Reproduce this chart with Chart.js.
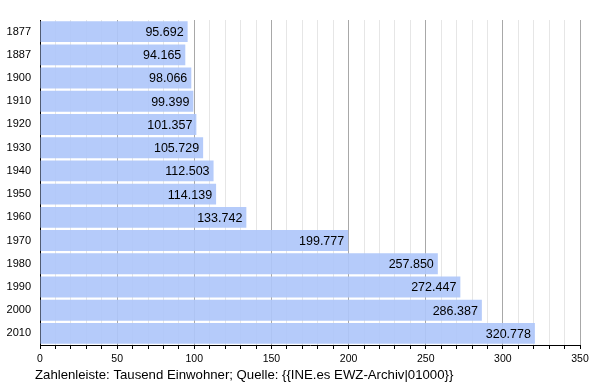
<!DOCTYPE html>
<html>
<head>
<meta charset="utf-8">
<script src="https://cdn.jsdelivr.net/npm/chart.js@4/dist/chart.umd.min.js"></script>
<style>
  html, body { margin: 0; padding: 0; background: #fff; }
  #wrap { width: 600px; height: 385px; }
</style>
</head>
<body>
<div id="wrap"><canvas id="chart"></canvas></div>
<script>
const years = ['1877', '1887', '1900', '1910', '1920', '1930', '1940', '1950', '1960', '1970', '1980', '1990', '2000', '2010'];
const population = [95.692, 94.165, 98.066, 99.399, 101.357, 105.729, 112.503, 114.139, 133.742, 199.777, 257.850, 272.447, 286.387, 320.778];
const axisMax = 350;
const axisStep = 10;
const labelStep = 50;
const footnote = 'Zahlenleiste: Tausend Einwohner; Quelle: {{INE.es EWZ-Archiv|01000}}';

const fontFamily = '"Liberation Sans", Arial, sans-serif';

// Zahlen am Balkenende + Fußzeile
const valueLabels = {
    id: 'valueLabels',
    afterDatasetsDraw(chart) {
        const ctx = chart.ctx;
        const meta = chart.getDatasetMeta(0);
        ctx.save();
        ctx.font = '12.5px ' + fontFamily;
        ctx.fillStyle = '#000';
        ctx.textAlign = 'right';
        ctx.textBaseline = 'middle';
        meta.data.forEach((bar, i) => {
            ctx.fillText(population[i].toFixed(3), bar.x - 4, bar.y + 1);
        });
        ctx.font = '13.2px ' + fontFamily;
        ctx.textAlign = 'left';
        ctx.fillText(footnote, 35, 375);
        ctx.restore();
    }
};

new Chart(document.getElementById('chart'), {
    type: 'bar',
    data: {
        labels: years,
        datasets: [{
            data: population,
            backgroundColor: 'rgba(175, 199, 250, 0.92)',
            borderWidth: 0,
            barPercentage: 0.9,
            categoryPercentage: 1,
        }],
    },
    options: {
        indexAxis: 'y',
        responsive: true,
        maintainAspectRatio: false,
        animation: false,
        layout: { padding: { top: 20, right: 20, left: 0, bottom: 0 } },
        plugins: {
            legend: { display: false },
            tooltip: { enabled: false },
        },
        scales: {
            x: {
                min: 0,
                max: axisMax,
                afterFit(scale) { scale.height = 40; },
                ticks: {
                    stepSize: axisStep,
                    autoSkip: false,
                    maxRotation: 0,
                    padding: 4,
                    color: '#000',
                    font: { family: fontFamily, size: 10.5 },
                    callback: (v) => (v % labelStep === 0 ? v : ''),
                },
                grid: {
                    color: (c) => (c.tick && c.tick.value % labelStep === 0 ? '#a8a8a8' : '#e6e6e6'),
                    tickColor: '#000',
                    tickLength: 4,
                },
                border: { display: true, color: '#000', width: 1 },
            },
            y: {
                afterFit(scale) { scale.width = 40; },
                ticks: {
                    color: '#000',
                    padding: 1,
                    font: { family: fontFamily, size: 11 },
                },
                grid: { display: false },
                border: { display: true, color: '#000', width: 1 },
            },
        },
    },
    plugins: [valueLabels],
});
</script>
</body>
</html>
